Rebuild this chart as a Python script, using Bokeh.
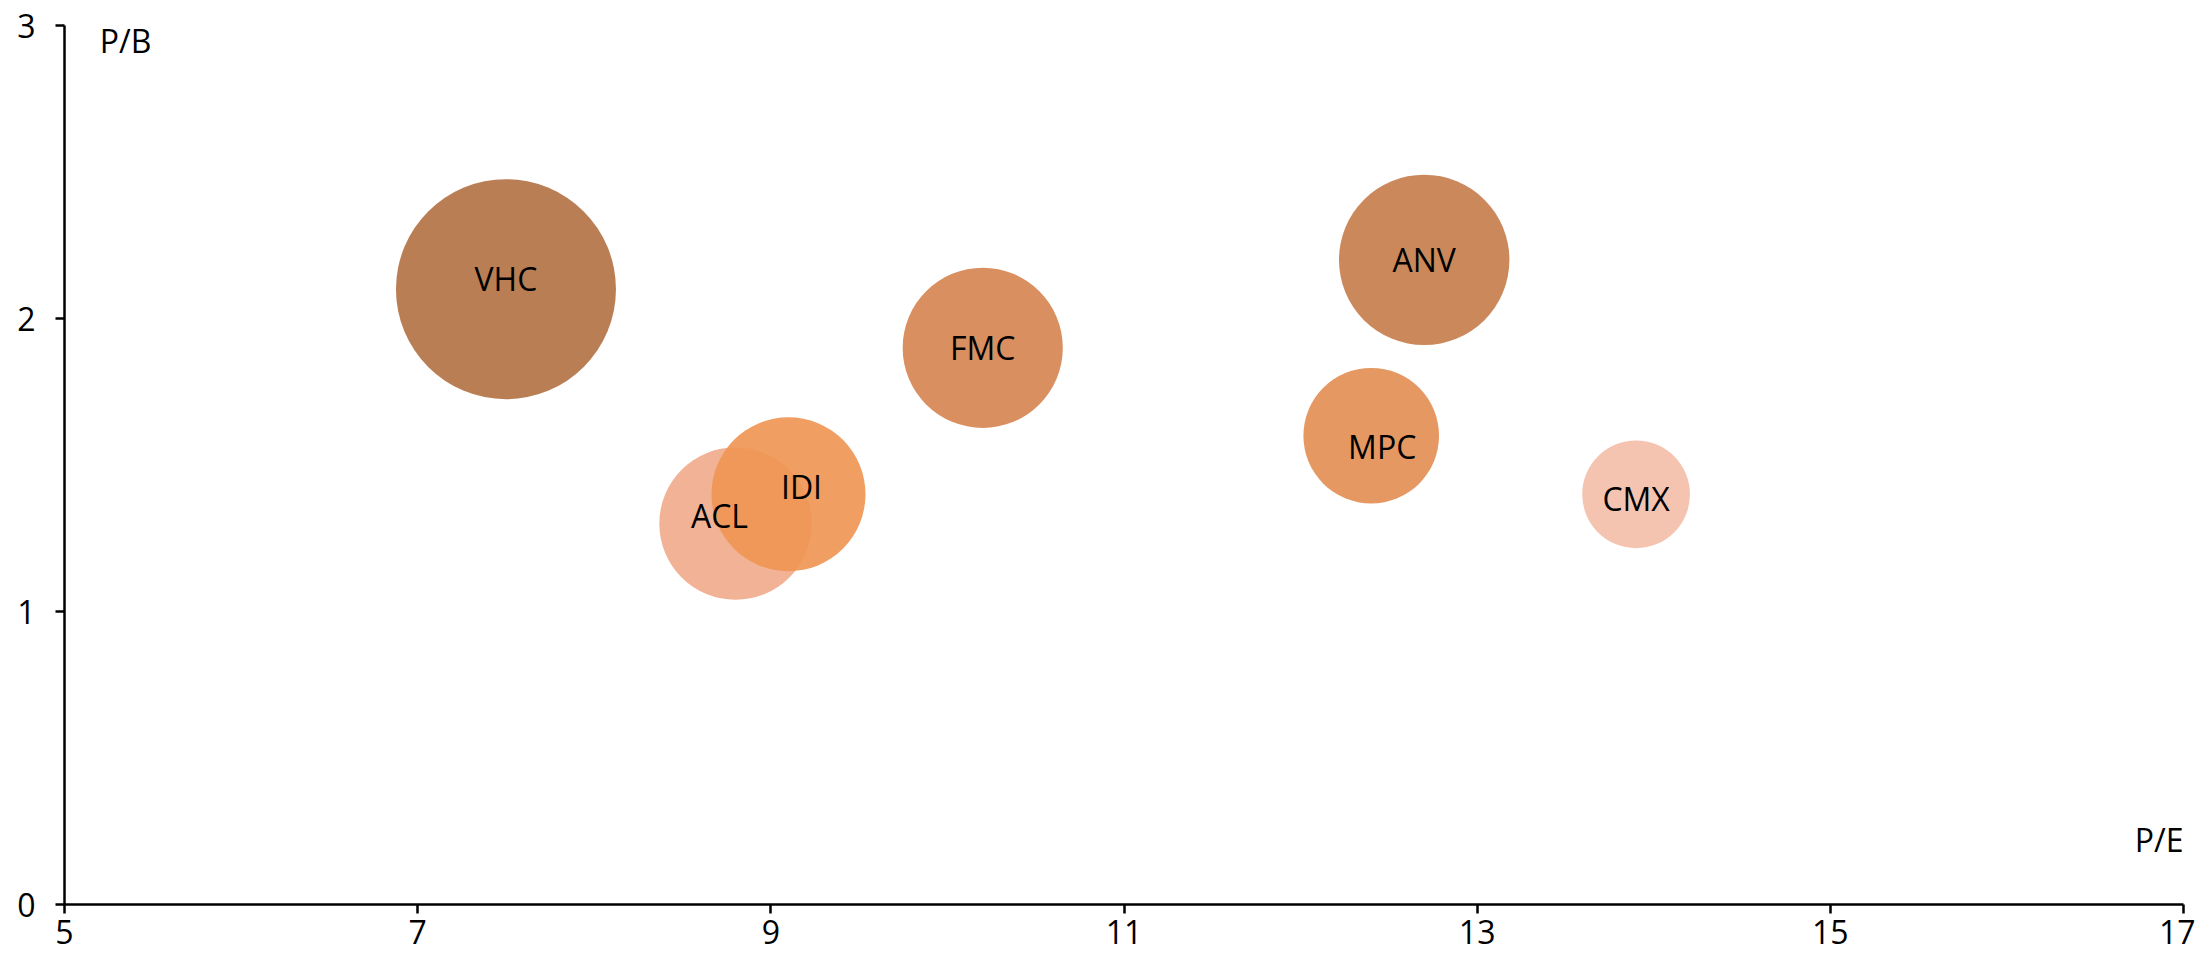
import math
from bokeh.plotting import figure
from bokeh.models import ColumnDataSource, Range1d, FixedTicker, Label, LabelSet
from bokeh.core.properties import value
from bokeh.embed import file_html
from bokeh.resources import INLINE

# ---- data ----
tickers = ["VHC", "ACL", "IDI", "FMC", "MPC", "ANV", "CMX"]
pe = [7.5, 8.8, 9.1, 10.2, 12.4, 12.7, 13.9]
pb = [2.1, 1.3, 1.4, 1.9, 1.6, 2.2, 1.4]
bubble_size = [100, 48, 49, 53, 38, 60, 24]
x_ticks = [5, 7, 9, 11, 13, 15, 17]
y_ticks = [0, 1, 2, 3]

# ---- style ----
colors = ["#BA7E55", "#F2B295", "#EF9655", "#D98F5F", "#E59862", "#CB885B", "#F5C4B0"]
alphas = [1.0, 1.0, 0.92, 1.0, 1.0, 1.0, 1.0]
label_dx = [0, -16, 13, 0, 11, 0, 0]
label_dy = [11, 8, 8, 0, -11, 0, -4]
FONT = "Open Sans"
FS = "32px"
max_diam = 220

diam = [max_diam * math.sqrt(s / max(bubble_size)) for s in bubble_size]

src = ColumnDataSource(dict(x=pe, y=pb, name=tickers, d=diam, c=colors, a=alphas,
                            dx=label_dx, dy=label_dy))

p = figure(width=2195, height=955, output_backend="svg", toolbar_location=None,
           x_range=Range1d(5, 17), y_range=Range1d(0, 3),
           min_border_left=64, min_border_right=12, min_border_top=25, min_border_bottom=51)
p.outline_line_color = None
p.xgrid.visible = False
p.ygrid.visible = False

p.scatter(x="x", y="y", size="d", marker="circle", fill_color="c", fill_alpha="a",
          line_color=None, source=src)

labels = LabelSet(x="x", y="y", text="name", x_offset="dx", y_offset="dy", source=src,
                  text_align="center", text_baseline="middle",
                  text_font=value(FONT), text_font_size=value(FS), text_color="#000000")
p.add_layout(labels)

for ax, ticks in ((p.xaxis[0], x_ticks), (p.yaxis[0], y_ticks)):
    ax.ticker = FixedTicker(ticks=ticks)
    ax.minor_tick_line_color = None
    ax.major_tick_in = 0
    ax.major_tick_out = 9
    ax.major_tick_line_width = 2.5
    ax.axis_line_width = 2.5
    ax.axis_line_color = "#000000"
    ax.major_tick_line_color = "#000000"
    ax.major_label_text_font = FONT
    ax.major_label_text_font_size = FS
    ax.major_label_text_color = "#000000"
p.xaxis.major_label_standoff = 6
p.yaxis.major_label_standoff = 20

p.add_layout(Label(x=5.2, y=2.948, text="P/B", text_align="left", text_baseline="alphabetic",
                   text_font=FONT, text_font_size=FS, text_color="#000000"))
p.add_layout(Label(x=17, y=0.222, text="P/E", text_align="right", text_baseline="alphabetic",
                   text_font=FONT, text_font_size=FS, text_color="#000000"))

open("out.html", "w").write(file_html(p, INLINE))
